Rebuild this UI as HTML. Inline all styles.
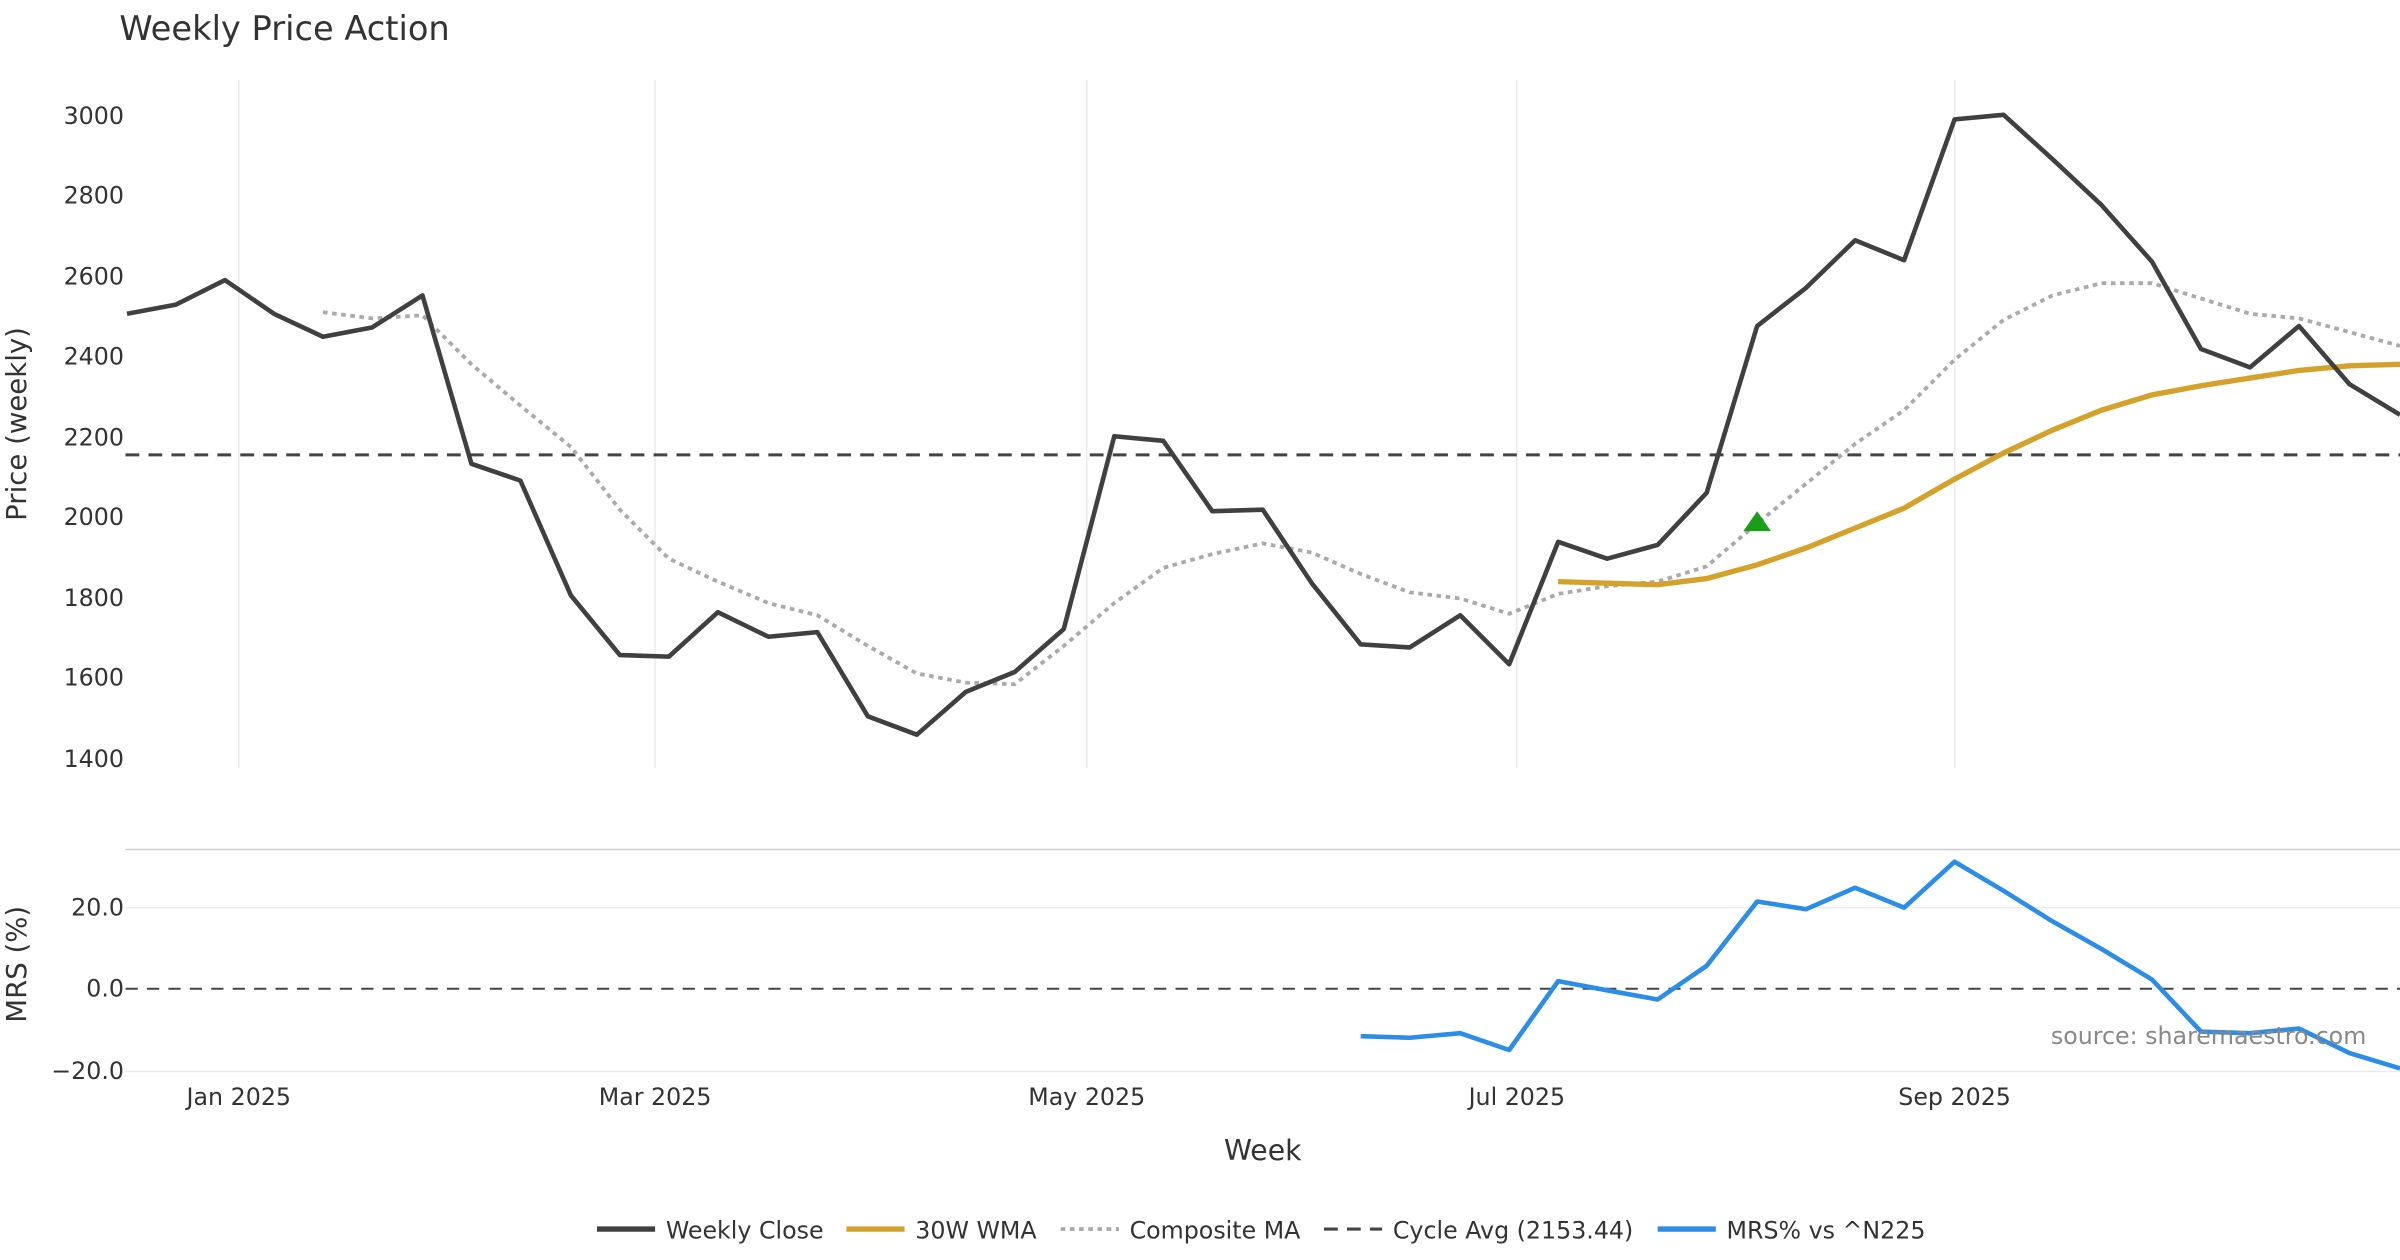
<!DOCTYPE html>
<html><head><meta charset="utf-8"><style>
html,body{margin:0;padding:0;background:#fff;}
svg{display:block;font-family:"DejaVu Sans","Liberation Sans",sans-serif;}
</style></head><body>
<svg width="2400" height="1260" viewBox="0 0 1568 823.2" xmlns="http://www.w3.org/2000/svg">
<rect width="1568" height="823.2" fill="#fff"/>
<text x="78" y="26" font-size="22" fill="#333">Weekly Price Action</text>
<g stroke="#ebebeb" stroke-width="1">
<line x1="156" y1="52" x2="156" y2="502"/><line x1="428" y1="52" x2="428" y2="502"/>
<line x1="710" y1="52" x2="710" y2="502"/><line x1="991" y1="52" x2="991" y2="502"/>
<line x1="1277" y1="52" x2="1277" y2="502"/>
<line x1="82" y1="593" x2="1568" y2="593"/><line x1="82" y1="700" x2="1568" y2="700"/>
</g>
<line x1="82" y1="555" x2="1568" y2="555" stroke="#ccc" stroke-width="1"/>
<g font-size="15.5" fill="#333" text-anchor="end">
<text x="81" y="81">3000</text><text x="81" y="133">2800</text><text x="81" y="186">2600</text>
<text x="81" y="238">2400</text><text x="81" y="291">2200</text><text x="81" y="343">2000</text>
<text x="81" y="396">1800</text><text x="81" y="448">1600</text><text x="81" y="501">1400</text>
<text x="81" y="598">20.0</text><text x="81" y="651">0.0</text><text x="81" y="705">−20.0</text>
</g>
<text transform="translate(17,277) rotate(-90)" font-size="18" fill="#333" text-anchor="middle">Price (weekly)</text>
<text transform="translate(17,630) rotate(-90)" font-size="18" fill="#333" text-anchor="middle">MRS (%)</text>
<g font-size="15.5" fill="#333" text-anchor="middle">
<text x="156" y="722">Jan 2025</text><text x="428" y="722">Mar 2025</text><text x="710" y="722">May 2025</text>
<text x="991" y="722">Jul 2025</text><text x="1277" y="722">Sep 2025</text>
</g>
<text x="825" y="758" font-size="18.5" fill="#333" text-anchor="middle">Week</text>
<line x1="82" y1="297.2" x2="1568" y2="297.2" stroke="#444" stroke-width="2" stroke-dasharray="9,6"/>
<line x1="82" y1="646" x2="1568" y2="646" stroke="#444" stroke-width="1.3" stroke-dasharray="8,6"/>
<polyline fill="none" stroke="#aaa" stroke-width="2.5" stroke-dasharray="3,3" points="211,204 243,208 276,206 308,238 340,265 373,292 405,333 437,365 469,380 502,394 534,402 567,422 599,440 631,446 663,447 695,422 728,394 760,371 792,362 825,355 857,361 889,375 921,387 954,391 986,401 1018,388 1050,383 1083,380 1115,370 1148,342 1180,316 1212,290 1244,268 1277,235 1309,209 1341,193 1373,185 1406,185 1438,195 1470,205 1502,208 1535,217 1568,226"/>
<polyline fill="none" stroke="#d4a22a" stroke-width="3.5" points="1018,380 1050,381 1083,382 1115,378 1148,369 1180,358 1212,345 1244,332 1277,313 1309,296 1341,281 1373,268 1406,258 1438,252 1470,247 1502,242 1535,239 1568,238"/>
<polyline fill="none" stroke="#404040" stroke-width="3" stroke-linejoin="round" points="83,205 115,199 147,183 179,205 211,220 243,214 276,193 308,303 340,314 373,389 405,428 437,429 469,400 502,416 534,413 567,468 599,480 631,452 663,439 695,411 728,285 760,288 792,334 825,333 857,381 889,421 921,423 954,402 986,434 1018,354 1050,365 1083,356 1115,322 1148,213 1180,188 1212,157 1244,170 1277,78 1309,75 1341,104 1373,134 1406,171 1438,228 1470,240 1502,213 1535,251 1568,271"/>
<polygon points="1148,334 1139,347 1157,347" fill="#1a9e1a"/>
<polyline fill="none" stroke="#2a8de8" stroke-width="3" stroke-linejoin="round" points="889,677 921,678 954,675 986,686 1018,641 1050,647 1083,653 1115,631 1148,589 1180,594 1212,580 1244,593 1277,563 1309,582 1341,602 1373,620 1406,640 1438,674 1470,675 1502,672 1535,688 1568,698"/>
<text x="1546" y="682" font-size="15.5" fill="#888" text-anchor="end">source: sharemaestro.com</text>
<g font-size="15.5" fill="#333">
<line x1="390" y1="803" x2="428" y2="803" stroke="#404040" stroke-width="3.5"/><text x="435" y="809">Weekly Close</text>
<line x1="553" y1="803" x2="591" y2="803" stroke="#d4a22a" stroke-width="3.5"/><text x="598" y="809">30W WMA</text>
<line x1="693" y1="803" x2="731" y2="803" stroke="#aaa" stroke-width="2.5" stroke-dasharray="3,3"/><text x="738" y="809">Composite MA</text>
<line x1="865" y1="803" x2="903" y2="803" stroke="#444" stroke-width="2" stroke-dasharray="9,6"/><text x="910" y="809">Cycle Avg (2153.44)</text>
<line x1="1083" y1="803" x2="1121" y2="803" stroke="#2a8de8" stroke-width="3.5"/><text x="1128" y="809">MRS% vs ^N225</text>
</g>
</svg>
</body></html>
